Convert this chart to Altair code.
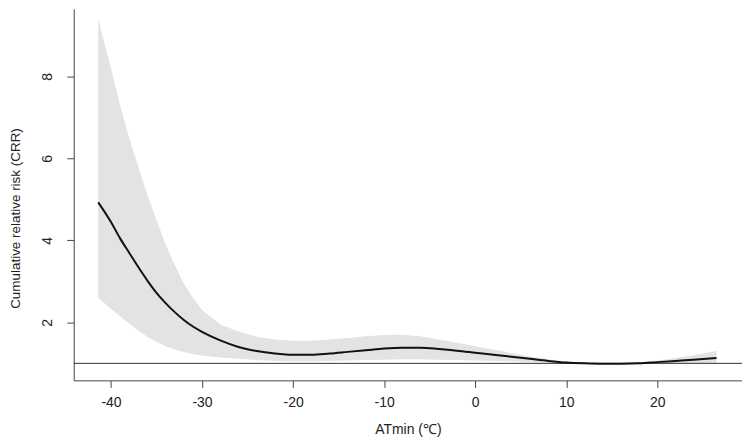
import altair as alt
import pandas as pd

# Temperature grid (ATmin, °C)
temp = [-41.4, -40, -39, -38, -37, -36, -35, -34, -33, -32, -31, -30, -28, -26, -24,
        -22, -20, -18, -16, -14, -12, -10, -8, -6, -4, -2, 0, 2, 4, 6, 8, 10, 12,
        14, 16, 18, 20, 22, 24, 26.5]
# Cumulative relative risk (central estimate)
crr = [4.93, 4.45, 4.05, 3.70, 3.35, 3.02, 2.72, 2.47, 2.25, 2.06, 1.90, 1.77, 1.56, 1.40, 1.30,
       1.24, 1.21, 1.21, 1.24, 1.28, 1.32, 1.36, 1.38, 1.38, 1.35, 1.31, 1.26, 1.21, 1.16, 1.11,
       1.06, 1.02, 1.00, 0.99, 0.99, 1.00, 1.03, 1.06, 1.09, 1.13]
# 95% CI upper
upper = [9.40, 8.20, 7.30, 6.50, 5.80, 5.10, 4.50, 3.90, 3.40, 2.95, 2.60, 2.30, 1.95, 1.78, 1.65,
         1.58, 1.55, 1.55, 1.58, 1.62, 1.66, 1.69, 1.70, 1.66, 1.58, 1.50, 1.42, 1.34, 1.25, 1.17,
         1.10, 1.04, 1.01, 1.00, 1.00, 1.02, 1.07, 1.13, 1.20, 1.30]
# 95% CI lower
lower = [2.60, 2.33, 2.15, 1.97, 1.80, 1.65, 1.52, 1.42, 1.34, 1.28, 1.23, 1.19, 1.14, 1.11, 1.08,
         1.06, 1.05, 1.05, 1.06, 1.07, 1.08, 1.09, 1.10, 1.10, 1.09, 1.08, 1.07, 1.06, 1.05, 1.03,
         1.02, 1.00, 0.99, 0.98, 0.98, 0.98, 0.99, 1.00, 1.00, 1.00]

x_ticks = [-40, -30, -20, -10, 0, 10, 20]
y_ticks = [2, 4, 6, 8]
ref_value = [1]

df = pd.DataFrame({"t": temp, "crr": crr, "lo": lower, "hi": upper})
ref = pd.DataFrame({"r": ref_value})

font = "Liberation Sans"
xscale = alt.Scale(domain=[-44.09, 29.3], nice=False, zero=False)
yscale = alt.Scale(domain=[0.585, 9.65], nice=False, zero=False)

xaxis = alt.Axis(values=x_ticks, title="ATmin (℃)", grid=False, tickSize=7,
                 labelExpr="toString(datum.value)",
                 labelFontSize=14, labelFont=font, labelColor="#222", labelPadding=8,
                 titleFontSize=14, titleFont=font, titleFontWeight="normal", titleColor="#222",
                 titlePadding=13, domainColor="#444", tickColor="#444", labelFlush=False)
yaxis = alt.Axis(values=y_ticks, title="Cumulative relative risk (CRR)", grid=False, tickSize=7,
                 labelExpr="toString(datum.value)",
                 labelFontSize=14, labelFont=font, labelColor="#222", labelAngle=270,
                 labelAlign="center", labelBaseline="bottom", labelPadding=12,
                 titleFontSize=13.5, titleFont=font, titleFontWeight="normal", titleColor="#222",
                 titleAngle=270, titleAlign="center", titleBaseline="top",
                 titleX=-65, titleY=210, domainColor="#444", tickColor="#444", labelFlush=False)

band = alt.Chart(df).mark_area(color="#e3e3e3", opacity=1).encode(
    x=alt.X("t:Q", scale=xscale, axis=xaxis),
    y=alt.Y("lo:Q", scale=yscale, axis=yaxis),
    y2="hi:Q",
)
rule = alt.Chart(ref).mark_rule(color="#333", strokeWidth=1).encode(
    y=alt.Y("r:Q", scale=yscale)
)
line = alt.Chart(df).mark_line(color="#111", strokeWidth=2, interpolate="monotone").encode(
    x=alt.X("t:Q", scale=xscale),
    y=alt.Y("crr:Q", scale=yscale),
)

chart = (band + rule + line).properties(
    width=671, height=373,
    autosize=alt.AutoSizeParams(type="none"),
    padding={"left": 66, "top": 0, "right": 0, "bottom": 60},
    background="white",
).configure_view(stroke=None)

chart.save("out.html", embed_options={"renderer": "svg", "actions": False})
